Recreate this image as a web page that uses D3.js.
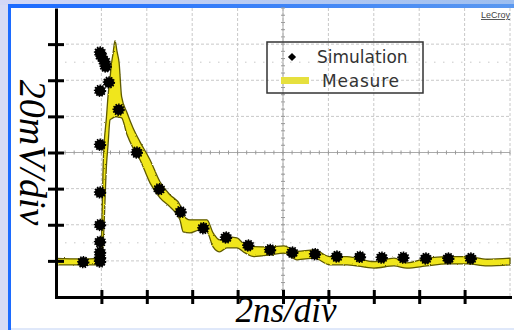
<!DOCTYPE html>
<html>
<head>
<meta charset="utf-8">
<script src="https://cdn.jsdelivr.net/npm/d3@7"></script>
<style>
  body { margin: 0; background: #fff; }
  svg { display: block; }
</style>
</head>
<body>
<svg id="chart"></svg>
<script>
// simulation points (time in ns, voltage in mV)
const simTime = [1.20, 1.94, 1.94, 1.94, 1.94, 1.94, 1.94, 1.94, 1.94, 1.94, 2.00, 2.13, 2.19, 2.33, 2.76,
                 3.56, 4.55, 5.49, 6.49, 7.49, 8.47, 9.43, 10.41, 11.41, 12.37, 13.39, 14.35, 15.30, 16.29, 17.28, 18.27];
const simVolt = [-0.7, -0.4, 1.7, 4.7, 10.5, 19.9, 37.9, 64.3, 94.2, 115.4, 113.2, 110.4, 107.6, 98.8, 83.7,
                 60.0, 39.7, 27.1, 18.1, 12.9, 8.5, 6.1, 4.6, 3.7, 2.4, 2.2, 1.8, 1.8, 1.3, 1.3, 1.3];

// measured trace, persistence envelope (upper / lower edge in mV)
const measTime = [0, 1.06, 1.92, 1.96, 2.00, 2.08, 2.23, 2.29, 2.38, 2.45, 2.51, 2.60, 2.69, 2.78, 2.89,
                  3.13, 3.39, 3.70, 4.14, 4.58, 5.02, 5.46, 5.60, 5.90, 6.34, 6.65, 6.92, 7.22, 7.53, 7.97,
                  8.33, 8.72, 9.43, 10.04, 10.62, 11.37, 12.07, 12.82, 14.01, 14.89, 15.46, 16.34, 17.22, 18.11, 18.99, 20.0];
const measHigh = [1.4, 1.1, 1.4, 1.7, 10.0, 54.3, 80.7, 90.9, 101.1, 109.7, 114.5, 121.9, 115.8, 109.7, 90.9,
                  82.0, 73.7, 65.9, 56.0, 43.8, 36.6, 31.0, 25.5, 22.7, 22.7, 22.7, 15.5, 11.6, 13.3, 12.7,
                  8.9, 7.9, 7.8, 8.3, 5.2, 6.1, 2.4, 2.4, -0.4, 1.5, -1.1, 1.5, 2.4, 2.4, 0.9, 1.5];
const measLow  = [-2.2, -2.2, -2.2, -2.2, -1.1, 10.0, 54.3, 63.7, 78.1, 78.7, 79.2, 79.8, 79.8, 79.5, 79.2,
                  69.8, 62.6, 56.0, 43.2, 34.9, 29.9, 22.7, 16.1, 15.5, 17.2, 16.1, 7.8, 5.0, 7.2, 7.2,
                  4.4, 2.4, 3.3, 4.3, 0.6, 1.5, -2.2, -2.2, -4.0, -2.8, -4.0, -2.8, -1.7, -1.7, -2.8, -2.2];

const xTicks = [2, 4, 6, 8, 10, 12, 14, 16, 18];
const yTicks = [0, 20, 40, 60, 80, 100, 120];
const legendLabels = ["Simulation", "Measure"];
const xLabel = "2ns/div";
const yLabel = "20mV/div";

const W = 514, H = 330;
const svg = d3.select("#chart").attr("width", W).attr("height", H);

// screen frame
const defs = svg.append("defs");
const gTop = defs.append("linearGradient").attr("id", "topbar");
gTop.append("stop").attr("offset", "0%").attr("stop-color", "#d3d8f6");
gTop.append("stop").attr("offset", "100%").attr("stop-color", "#9cbef0");
const gTop2 = defs.append("linearGradient").attr("id", "topline");
gTop2.append("stop").attr("offset", "0%").attr("stop-color", "#1c6bff");
gTop2.append("stop").attr("offset", "100%").attr("stop-color", "#5a98f0");

const rough = defs.append("filter").attr("id", "rough")
    .attr("x", "-5%").attr("y", "-5%").attr("width", "110%").attr("height", "110%");
rough.append("feTurbulence").attr("type", "fractalNoise").attr("baseFrequency", 0.9)
    .attr("numOctaves", 1).attr("seed", 3).attr("result", "n");
rough.append("feDisplacementMap").attr("in", "SourceGraphic").attr("in2", "n")
    .attr("scale", 2.2).attr("xChannelSelector", "R").attr("yChannelSelector", "G");

svg.append("rect").attr("width", W).attr("height", H).attr("fill", "#d6dbf5");
svg.append("rect").attr("x", 0).attr("y", 0).attr("width", W).attr("height", 5).attr("fill", "url(#topbar)");
svg.append("rect").attr("x", 8).attr("y", 4).attr("width", W - 8).attr("height", 4).attr("fill", "url(#topline)");
svg.append("rect").attr("x", 8).attr("y", 4).attr("width", 3).attr("height", H - 4).attr("fill", "#1c6bff");
svg.append("rect").attr("x", 11).attr("y", 8).attr("width", W - 11).attr("height", H - 8).attr("fill", "#dfe8fa");
svg.append("rect").attr("x", 11).attr("y", 8).attr("width", W - 11).attr("height", 320).attr("fill", "#fff");

// scales
const x = d3.scaleLinear().domain([0, 20]).range([56, 510]);
const y = d3.scaleLinear().domain([-20, 140]).range([297, 8]);

// graticule
const grid = svg.append("g");
grid.selectAll(".vg").data(xTicks.concat([20])).join("line")
    .attr("x1", d => x(d)).attr("x2", d => x(d))
    .attr("y1", y(140)).attr("y2", y(-20))
    .attr("stroke", "#c8c8c8").attr("stroke-dasharray", "3 2");
grid.selectAll(".hg").data(yTicks.filter(d => d !== 60)).join("line")
    .attr("x1", x(0)).attr("x2", x(20))
    .attr("y1", d => y(d)).attr("y2", d => y(d))
    .attr("stroke", "#c8c8c8").attr("stroke-dasharray", "3 2");
grid.selectAll(".dg").data([10, 110]).join("line")
    .attr("x1", x(0)).attr("x2", x(20))
    .attr("y1", d => y(d)).attr("y2", d => y(d))
    .attr("stroke", "#c8c8c8").attr("stroke-dasharray", "1.5 7.5");
// centre lines with minor ticks
grid.append("line").attr("x1", x(0)).attr("x2", x(20)).attr("y1", y(60)).attr("y2", y(60))
    .attr("stroke", "#aaa");
grid.append("line").attr("x1", x(10)).attr("x2", x(10)).attr("y1", y(140)).attr("y2", y(-20))
    .attr("stroke", "#aaa");
grid.selectAll(".mx").data(d3.range(0, 20.01, 0.4)).join("line")
    .attr("x1", d => x(d)).attr("x2", d => x(d))
    .attr("y1", y(60) - 2).attr("y2", y(60) + 2).attr("stroke", "#999");
grid.selectAll(".my").data(d3.range(-20, 140.01, 4)).join("line")
    .attr("x1", x(10) - 2).attr("x2", x(10) + 2)
    .attr("y1", d => y(d)).attr("y2", d => y(d)).attr("stroke", "#999");

// LeCroy tag
svg.append("text").attr("x", 510).attr("y", 18).attr("text-anchor", "end")
    .attr("font-family", "Arial, 'Liberation Sans', sans-serif").attr("font-size", 9)
    .attr("fill", "#444").attr("text-decoration", "underline").text("LeCroy");

// measured band
const meas = measTime.map((t, i) => ({t: t, hi: measHigh[i], lo: measLow[i]}));
const band = d3.area()
    .x(d => x(d.t))
    .y0(d => y(d.lo))
    .y1(d => y(d.hi))
    .curve(d3.curveMonotoneX);
svg.append("path").datum(meas)
    .attr("d", band)
    .attr("fill", "#f0e61a")
    .attr("stroke", "#5f5a00")
    .attr("stroke-width", 1.3)
    .attr("filter", "url(#rough)");

// simulation dots
const sim = simTime.map((t, i) => ({t: t, v: simVolt[i]}));
svg.selectAll(".sim").data(sim).join("circle")
    .attr("cx", d => x(d.t)).attr("cy", d => y(d.v))
    .attr("r", 5.2)
    .attr("fill", "#000")
    .attr("stroke", "#000").attr("stroke-width", 2)
    .attr("stroke-dasharray", "1.4 1.2");

// axes
svg.append("g")
    .attr("transform", "translate(0," + y(-20) + ")")
    .call(d3.axisBottom(x).tickValues(xTicks).tickSize(7).tickSizeOuter(0).tickFormat(""))
    .call(g => g.selectAll(".tick line").attr("y1", -7).attr("stroke-width", 3).attr("stroke", "#000"))
    .call(g => g.select(".domain").attr("stroke-width", 3).attr("stroke", "#000").attr("stroke-linecap", "square"));

svg.append("g")
    .attr("transform", "translate(" + x(0) + ",0)")
    .call(d3.axisLeft(y).tickValues(yTicks).tickSize(8).tickSizeOuter(0).tickFormat(""))
    .call(g => g.selectAll(".tick line").attr("x1", 8).attr("stroke-width", 3).attr("stroke", "#000"))
    .call(g => g.select(".domain").attr("stroke-width", 3).attr("stroke", "#000"));

// axis titles
svg.append("text")
    .attr("transform", "translate(20," + y(60) + ") rotate(90)")
    .attr("text-anchor", "middle")
    .attr("font-family", "'Liberation Serif', 'Times New Roman', serif")
    .attr("font-style", "italic").attr("font-size", 38)
    .text(yLabel);
svg.append("text")
    .attr("x", 286).attr("y", 322)
    .attr("text-anchor", "middle")
    .attr("font-family", "'Liberation Serif', 'Times New Roman', serif")
    .attr("font-style", "italic").attr("font-size", 35)
    .text(xLabel);

// legend
const leg = svg.append("g");
leg.append("rect").attr("x", 267).attr("y", 42).attr("width", 156).attr("height", 51)
    .attr("fill", "none").attr("stroke", "#333").attr("stroke-width", 1.5);
leg.append("path")
    .attr("d", d3.symbol(d3.symbolSquare, 34)())
    .attr("transform", "translate(292,57) rotate(45)")
    .attr("fill", "#000");
leg.append("rect").attr("x", 281).attr("y", 77).attr("width", 28).attr("height", 7)
    .attr("fill", "#e6e03e");
leg.selectAll("text").data(legendLabels).join("text")
    .attr("x", (d, i) => i === 0 ? 317 : 322)
    .attr("y", (d, i) => i === 0 ? 63 : 87)
    .attr("font-family", "'DejaVu Sans', sans-serif")
    .attr("font-size", 17).attr("letter-spacing", (d, i) => i === 0 ? 0 : 0.8)
    .attr("fill", "#333")
    .text(d => d);
</script>
</body>
</html>
